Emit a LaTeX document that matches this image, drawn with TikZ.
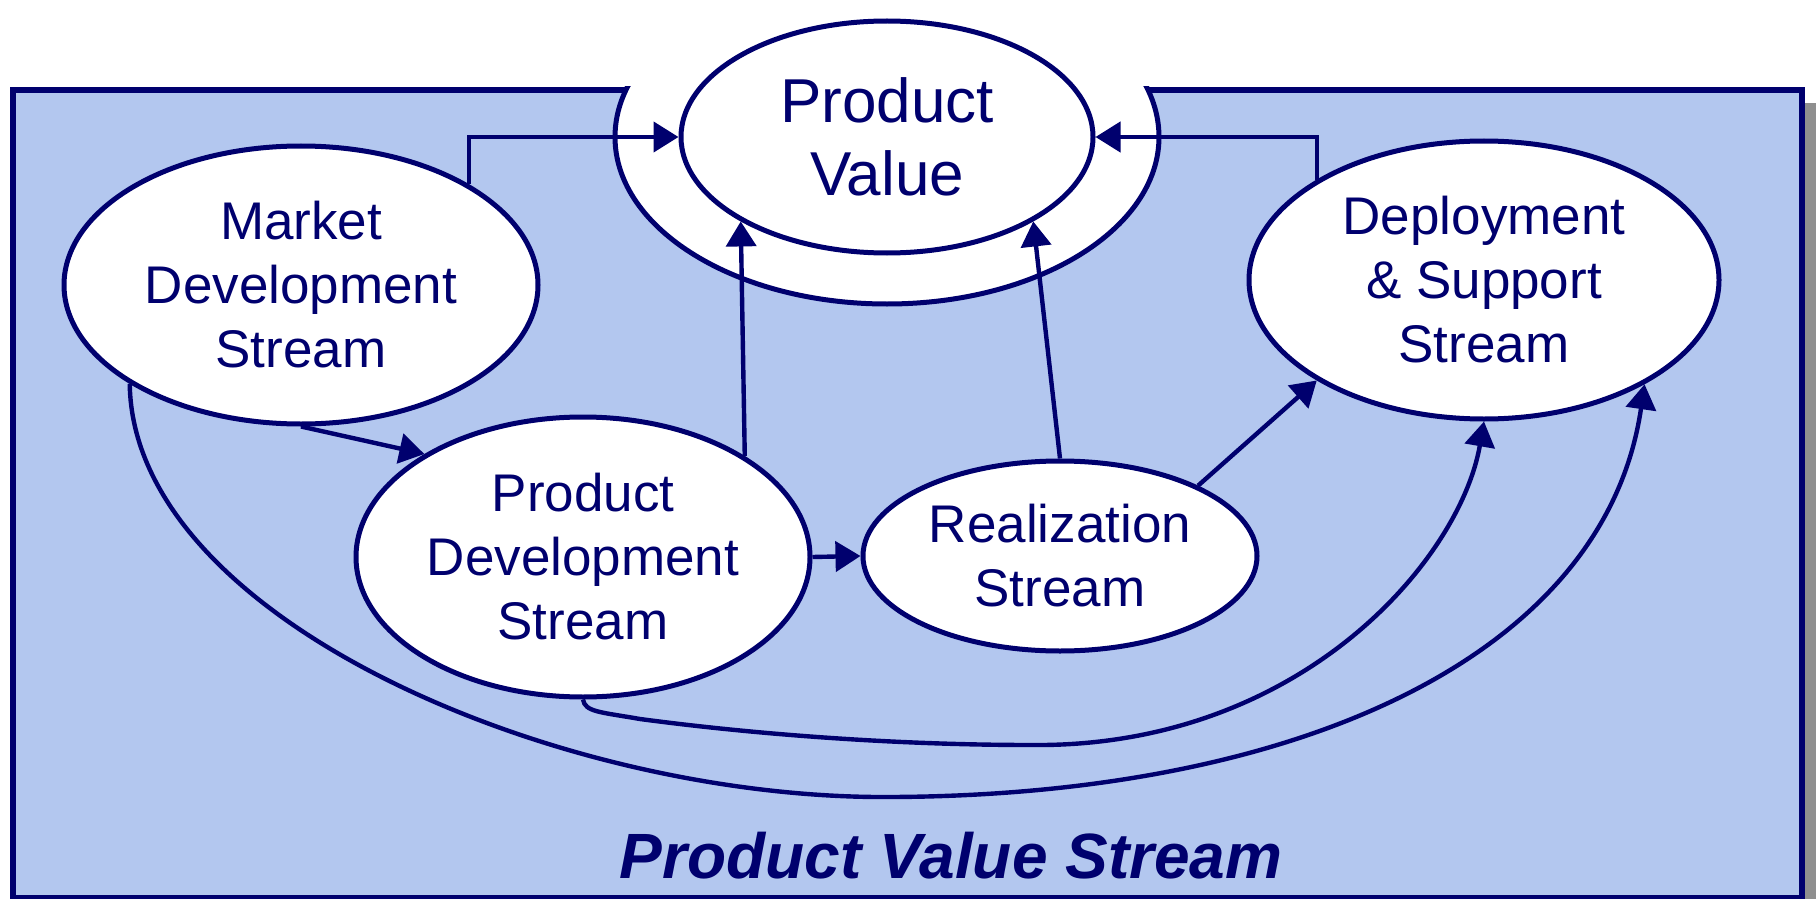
\documentclass[tikz,border=0pt]{standalone}
\usepackage{fontspec}
\setmainfont{Liberation Sans}
\usepackage{tikz}
\usetikzlibrary{positioning}
\usetikzlibrary{shapes.geometric}
\usetikzlibrary{arrows.meta}

\definecolor{navy}{RGB}{0,0,110}
\definecolor{streamblue}{RGB}{179,199,239}
\definecolor{shadowgray}{RGB}{143,143,143}

\begin{document}
\begin{tikzpicture}[x=0.5pt, y=-0.5pt,
                      streamnode/.style={ellipse, draw=navy, fill=white, line width=2.5pt, inner sep=0pt, align=center, text=navy, font=\fontsize{26.5}{32}\selectfont},
                      flow/.style={draw=navy, line width=2.2pt, -{Triangle[length=12.5pt,width=15pt]}},
                  ]
                  \useasboundingbox (0,0) rectangle (1816,899);

                  %Frame
                  \fill[shadowgray] (26,103) rectangle (1830,915);
                  \draw[line width=3pt, draw=navy, fill=streamblue] (13,90) rectangle (1802,898);
                  \begin{scope}
                      \clip (10,87) rectangle (1805,901);
                      \node[streamnode, minimum width=272pt, minimum height=167pt] (pvring) at (887,137) {};
                  \end{scope}

                  %Nodes
                  \node[streamnode, minimum width=206pt, minimum height=116pt, font=\fontsize{31}{36.5}\selectfont] (pv) at (887,137) {Product\\Value};
                  \node[streamnode, minimum width=237pt, minimum height=139pt] (mkt) at (301,285) {Market\\Development\\Stream};
                  \node[streamnode, minimum width=227pt, minimum height=140pt] (pd) at (583,557) {Product\\Development\\Stream};
                  \node[streamnode, minimum width=197pt, minimum height=95pt]  (rz) at (1060,556) {Realization\\Stream};
                  \node[streamnode, minimum width=235pt, minimum height=139pt] (dep) at (1484,280) {Deployment\\\& Support\\Stream};
                  \node[text=navy, font=\fontsize{32}{38}\selectfont\bfseries\itshape] (title) at (951,856) {Product Value Stream};

                  %Lines
                  \draw[flow] (mkt.31) |- (pv.west);
                  \draw[flow] (dep.149) |- (pv.east);
                  \draw[flow] (mkt.south) -- (pd.147);
                  \draw[flow] (pd.32) -- (pv.210);
                  \draw[flow] (rz.north) -- (pv.-30);
                  \draw[flow] (pd.east) -- (rz.west);
                  \draw[flow] (rz.27) -- (dep.211);
                  \draw[flow] (pd.south) .. controls (585,712) and (600,712) .. (640,719)
                      .. controls (760,735) and (900,745) .. (1031,745)
                      .. controls (1300,748) and (1460,560) .. (dep.south);
                  \draw[flow] (mkt.210) .. controls (133,620) and (560,800) .. (892,797)
                      .. controls (1300,795) and (1605,655) .. (dep.-33);
              \end{tikzpicture}
\end{document}
